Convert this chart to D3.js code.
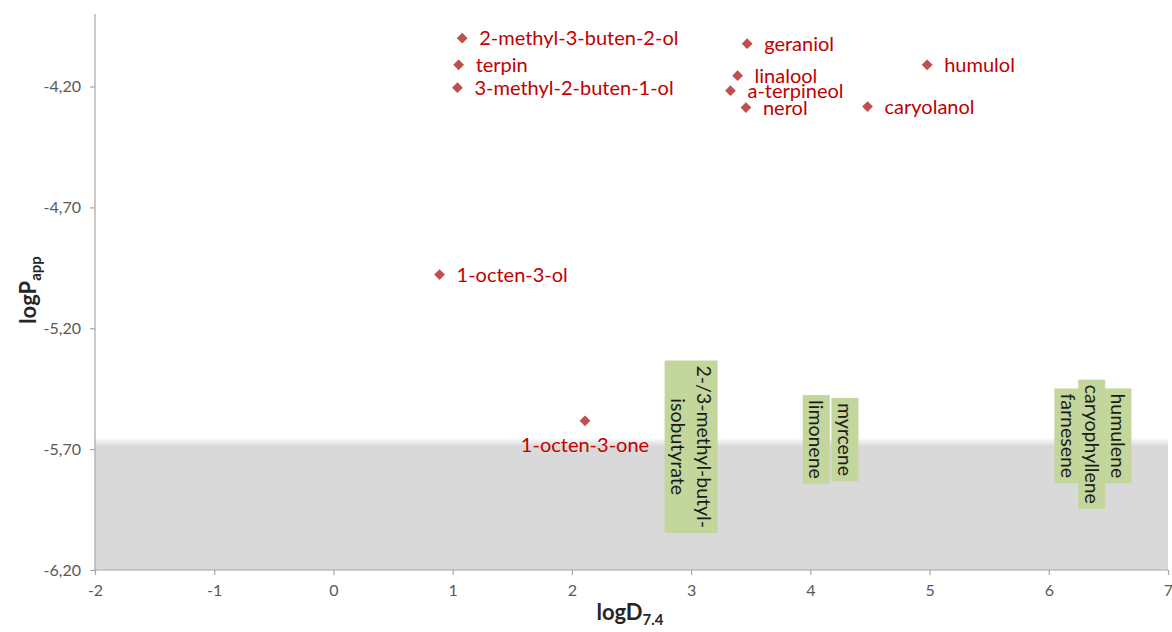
<!DOCTYPE html>
<html><head><meta charset="utf-8">
<script src="https://cdn.jsdelivr.net/npm/d3@7"></script>
<style>body{margin:0;background:#fff}svg{display:block}</style>
</head><body>
<svg id="c" width="1172" height="632"></svg>
<script>
// Measured compounds: logD7.4 vs logPapp
const names = ["2-methyl-3-buten-2-ol","terpin","3-methyl-2-buten-1-ol","geraniol","linalool","a-terpineol","nerol","humulol","caryolanol","1-octen-3-ol","1-octen-3-one"];
const logD  = [1.08, 1.05, 1.04, 3.47, 3.39, 3.33, 3.46, 4.98, 4.48, 0.89, 2.11];
const logP  = [-4.00, -4.11, -4.205, -4.023, -4.155, -4.217, -4.287, -4.11, -4.283, -4.978, -5.583];
const labelBelow = ["1-octen-3-one"];
// Compounds below detection limit (annotations)
const ndNames = [["2-/3-methyl-butyl-","isobutyrate"],["limonene"],["myrcene"],["farnesene"],["caryophyllene"],["humulene"]];
const ndLogD  = [3.0, 4.05, 4.29, 6.16, 6.36, 6.58];
const ndLogP  = [-5.69, -5.66, -5.66, -5.645, -5.68, -5.645];
const xTicks = [-2,-1,0,1,2,3,4,5,6,7];
const yTicks = [-4.2,-4.7,-5.2,-5.7,-6.2];
const limitTop = -5.685;

const svg = d3.select("#c");
const L=95, R=1168, T=14, B=570;
const x = d3.scaleLinear().domain([-2,7]).range([L,R]);
const y = d3.scaleLinear().domain([-6.2,-3.9]).range([B,T]);
const font = "Lato, Calibri, sans-serif";

// gray band with soft top edge
const defs = svg.append("defs");
const g = defs.append("linearGradient").attr("id","band").attr("x1",0).attr("y1",0).attr("x2",0).attr("y2",1);
const bandTop = y(limitTop)-8, bandH = B - bandTop;
g.append("stop").attr("offset",0).attr("stop-color","#d9d9d9").attr("stop-opacity",0);
g.append("stop").attr("offset",(9/bandH)).attr("stop-color","#d9d9d9").attr("stop-opacity",1);
g.append("stop").attr("offset",1).attr("stop-color","#d9d9d9").attr("stop-opacity",1);
svg.append("rect").attr("x",L).attr("y",bandTop).attr("width",R-L).attr("height",bandH).attr("fill","url(#band)");

// axes
const ax = svg.append("g").attr("transform",`translate(0,${B})`)
  .call(d3.axisBottom(x).tickValues(xTicks).tickSize(5).tickPadding(10).tickFormat(d=>String(d)));
const ay = svg.append("g").attr("transform",`translate(${L},0)`)
  .call(d3.axisLeft(y).tickValues(yTicks).tickSize(5).tickPadding(9).tickFormat(d=>d.toFixed(2).replace(".",",")));
ax.select(".domain").attr("d",`M${L},0H${R}`);
ay.select(".domain").attr("d",`M0,${B}V${T}`);
[ax,ay].forEach(a=>{
  a.selectAll(".domain,line").attr("stroke","#a6a6a6").attr("stroke-width",1.2);
  a.selectAll("text").attr("fill","#595959").attr("font-size",16).attr("font-family",font);
});

// axis titles
const xt = svg.append("text").attr("x",630).attr("y",620).attr("text-anchor","middle")
  .attr("font-family",font).attr("font-weight","bold").attr("font-size",22).attr("fill","#262626");
xt.append("tspan").text("logD");
xt.append("tspan").attr("font-size",15).attr("dy",5).text("7.4");
const yt = svg.append("text").attr("transform","translate(36,290) rotate(-90)").attr("text-anchor","middle")
  .attr("font-family",font).attr("font-weight","bold").attr("font-size",22).attr("fill","#262626");
yt.append("tspan").text("logP");
yt.append("tspan").attr("font-size",15).attr("dy",5).text("app");

// points
const pts = names.map((n,i)=>({n, x:logD[i], y:logP[i]}));
svg.selectAll(".pt").data(pts).enter().append("path").attr("class","pt")
  .attr("d",d3.symbol().type(d3.symbolSquare).size(58))
  .attr("transform",d=>`translate(${x(d.x)},${y(d.y)}) rotate(45)`)
  .attr("fill","#c0504d");
svg.selectAll(".lbl").data(pts).enter().append("text").attr("class","lbl")
  .attr("x",d=>labelBelow.includes(d.n)? x(d.x) : x(d.x)+17)
  .attr("y",d=>labelBelow.includes(d.n)? y(d.y)+31 : y(d.y)+7)
  .attr("text-anchor",d=>labelBelow.includes(d.n)?"middle":"start")
  .attr("font-family",font).attr("font-size",20).attr("fill","#c00000")
  .text(d=>d.n);

// below-limit annotations (rotated text boxes)
const nd = ndNames.map((n,i)=>({n, x:ndLogD[i], y:ndLogP[i]}));
const lh = 26;
nd.forEach(d=>{
  const grp = svg.append("g").attr("transform",`translate(${x(d.x)},${y(d.y)}) rotate(90)`);
  const rect = grp.append("rect").attr("fill","#c3d69b");
  const t = grp.append("text").attr("text-anchor","middle").attr("font-family",font).attr("font-size",19.5).attr("fill","#1a1a1a");
  const n = d.n.length;
  d.n.forEach((s,k)=>{
    t.append("tspan").attr("x",0).attr("y",(k-(n-1)/2)*lh + 7).text(s);
  });
  const bb = t.node().getBBox();
  const w = bb.width + 10, h = n*lh + 1;
  rect.attr("x",-w/2).attr("y",-h/2).attr("width",w).attr("height",h);
});
</script>
</body></html>
